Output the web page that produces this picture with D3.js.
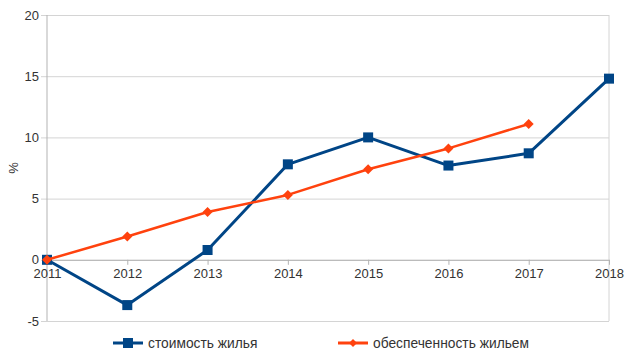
<!DOCTYPE html>
<html>
<head>
<meta charset="utf-8">
<script src="https://cdn.jsdelivr.net/npm/d3@7"></script>
<style>
  body { margin: 0; background: #fff; }
  text { font-family: "Liberation Sans", Arial, sans-serif; fill: #333; }
</style>
</head>
<body>
<div id="chart"></div>
<script>
// data
const years = ["2011", "2012", "2013", "2014", "2015", "2016", "2017", "2018"];
const costValues = [0, -3.7, 0.8, 7.8, 10, 7.7, 8.7, 14.8];       // стоимость жилья
const supplyValues = [0, 1.9, 3.9, 5.3, 7.4, 9.1, 11.1];          // обеспеченность жильем
const yTicks = [-5, 0, 5, 10, 15, 20];
const seriesNames = ["стоимость жилья", "обеспеченность жильем"];

const W = 637, H = 362;
const margin = { top: 15, right: 28, bottom: 41, left: 47 };
const width = W - margin.left - margin.right;
const height = H - margin.top - margin.bottom;

const svg = d3.select("#chart").append("svg")
    .attr("width", W)
    .attr("height", H);

const g = svg.append("g")
    .attr("transform", `translate(${margin.left},${margin.top})`);

const x = d3.scalePoint().domain(years).range([0, width]);
const y = d3.scaleLinear().domain([-5, 20]).range([height, 0]);

// horizontal grid + left ticks
const yAxis = g.append("g")
    .call(d3.axisLeft(y).tickValues(yTicks).tickFormat(d => String(d))
        .tickSize(-width).tickPadding(8).tickSizeOuter(0));
yAxis.select(".domain").remove();
yAxis.selectAll("line").attr("stroke", "#d4d4d4").attr("x1", -6);
yAxis.selectAll("text").style("font-size", "13px").attr("fill", "#333");

// frame: left axis line and right border
g.append("line").attr("x1", 0).attr("x2", 0).attr("y1", 0).attr("y2", height)
    .attr("stroke", "#b3b3b3");
g.append("line").attr("x1", width).attr("x2", width).attr("y1", 0).attr("y2", height)
    .attr("stroke", "#d4d4d4");

// x axis sits at zero
const xAxis = g.append("g")
    .attr("transform", `translate(0,${y(0)})`)
    .call(d3.axisBottom(x).tickSize(5).tickPadding(4).tickSizeOuter(0));
xAxis.select(".domain").attr("stroke", "#b3b3b3");
xAxis.selectAll("line").attr("stroke", "#b3b3b3");
xAxis.selectAll("text").style("font-size", "13px").attr("fill", "#333");

// y title
svg.append("text")
    .attr("transform", `translate(18,${margin.top + height / 2}) rotate(-90)`)
    .attr("text-anchor", "middle")
    .style("font-size", "13px")
    .text("%");

const line = d3.line().x((d, i) => x(years[i])).y(d => y(d));

// cost series (squares)
g.append("path").datum(costValues)
    .attr("d", line)
    .attr("fill", "none")
    .attr("stroke", "#004586")
    .attr("stroke-width", 3)
    .attr("stroke-linejoin", "round");
g.selectAll(".sq").data(costValues).enter().append("rect")
    .attr("x", (d, i) => x(years[i]) - 5)
    .attr("y", d => y(d) - 5)
    .attr("width", 10).attr("height", 10)
    .attr("fill", "#004586");

// supply series (diamonds)
g.append("path").datum(supplyValues)
    .attr("d", line)
    .attr("fill", "none")
    .attr("stroke", "#ff420e")
    .attr("stroke-width", 2.5)
    .attr("stroke-linejoin", "round");
g.selectAll(".dm").data(supplyValues).enter().append("path")
    .attr("d", "M0,-5L5,0L0,5L-5,0Z")
    .attr("transform", (d, i) => `translate(${x(years[i])},${y(d)})`)
    .attr("fill", "#ff420e");

// legend
const legend = svg.append("g").attr("transform", "translate(0,343)");
const items = [
    { name: seriesNames[0], color: "#004586", x: 113, shape: "square" },
    { name: seriesNames[1], color: "#ff420e", x: 338, shape: "diamond" }
];
items.forEach(it => {
    const lg = legend.append("g").attr("transform", `translate(${it.x},0)`);
    lg.append("line").attr("x1", 0).attr("x2", 30).attr("y1", 0).attr("y2", 0)
        .attr("stroke", it.color).attr("stroke-width", 3);
    if (it.shape === "square") {
        lg.append("rect").attr("x", 10).attr("y", -5).attr("width", 10).attr("height", 10).attr("fill", it.color);
    } else {
        lg.append("path").attr("d", "M15,-4L19,0L15,4L11,0Z").attr("fill", it.color);
    }
    lg.append("text").attr("x", 35).attr("y", 5)
        .style("font-size", "13.8px")
        .text(it.name);
});
</script>
</body>
</html>
